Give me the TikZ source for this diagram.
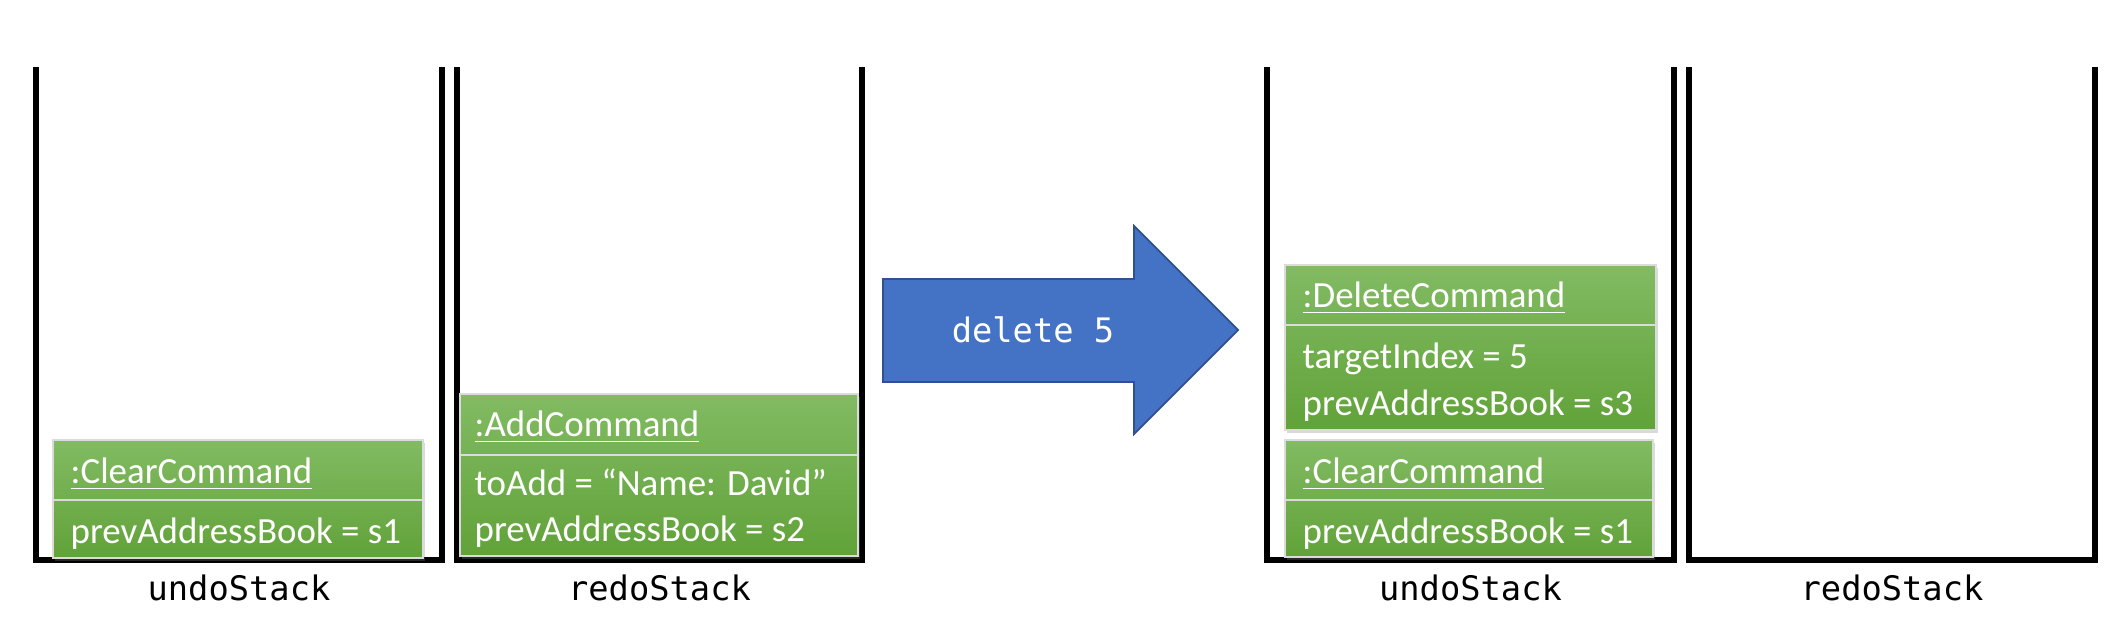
\documentclass[tikz,border=0pt]{standalone}
\usepackage{fontspec}
\setmonofont{DejaVu Sans Mono}
\newfontfamily\boxfont{Carlito}
\usepackage{xcolor}
\usetikzlibrary{positioning,fit,shadows}

\definecolor{cmdtop}{HTML}{82BB63}
\definecolor{cmdbottom}{HTML}{61A239}
\definecolor{arrowfill}{HTML}{4472C4}
\definecolor{arrowline}{HTML}{2F528F}

\begin{document}
\begin{tikzpicture}[x=0.1mm,y=-0.1mm,
  stackline/.style={line width=1.7pt},
  stacklabel/.style={font=\ttfamily\fontsize{9.6}{11}\selectfont,anchor=base},
  cmdbox/.style={draw=white!72!gray,line width=0.5pt,top color=cmdtop,bottom color=cmdbottom,
    inner sep=0pt,drop shadow={shadow xshift=0.7pt,shadow yshift=-0.9pt,opacity=0.3}},
  cmdtext/.style={font=\boxfont\fontsize{10.5}{12}\selectfont,text=white,anchor=base west,inner sep=0pt},
  cmddiv/.style={draw=white!72!gray,line width=0.8pt}]
  \useasboundingbox (0,0) rectangle (2121,634);
  % the four stacks, labels underneath
  \foreach \l/\r/\lbl [count=\i] in {36/442/undoStack,457/862/redoStack,1267/1674/undoStack,1689/2095/redoStack} {
    \draw[stackline] (\l,67) -- (\l,560) -- (\r,560) -- (\r,67);
    \node[stacklabel] (stack\i) at ({(\l+\r)/2},600) {\lbl};
  }

  % before: undoStack
  \node[cmdbox,fit={(53,440) (423,558)}] (clearA) {};
  \draw[cmddiv] (53,500) -- (423,500);
  \node[cmdtext] (clearAtitle) at (70,483) {\underline{:ClearCommand}};
  \node[cmdtext] (clearAprev) at (70,543) {prevAddressBook = s1};

  % before: redoStack
  \node[cmdbox,fit={(460,394) (858,556)}] (add) {};
  \draw[cmddiv] (460,455) -- (858,455);
  \node[cmdtext] (addtitle) at (474,436) {\underline{:AddCommand}};
  \node[cmdtext] (addto) at (474,495) {toAdd = “Name: David”};
  \node[cmdtext] (addprev) at (474,541) {prevAddressBook = s2};

  % the command
  \fill[arrowfill,draw=arrowline,line width=0.5pt]
    (883,279) -- (1134,279) -- (1134,226) -- (1238,330) -- (1134,434) -- (1134,382) -- (883,382) -- cycle;
  \node[font=\ttfamily\fontsize{9.6}{11}\selectfont,text=white,anchor=base] (cmd) at (1033,342) {delete 5};

  % after: undoStack
  \node[cmdbox,fit={(1285,265) (1656,430)}] (delete) {};
  \draw[cmddiv] (1285,325) -- (1656,325);
  \node[cmdtext] (deletetitle) at (1302,307) {\underline{:DeleteCommand}};
  \node[cmdtext] (deleteindex) at (1302,368) {targetIndex = 5};
  \node[cmdtext] (deleteprev) at (1302,415) {prevAddressBook = s3};

  \node[cmdbox,fit={(1285,440) (1653,557)}] (clearB) {};
  \draw[cmddiv] (1285,500) -- (1653,500);
  \node[cmdtext] (clearBtitle) at (1302,483) {\underline{:ClearCommand}};
  \node[cmdtext] (clearBprev) at (1302,543) {prevAddressBook = s1};
\end{tikzpicture}
\end{document}
